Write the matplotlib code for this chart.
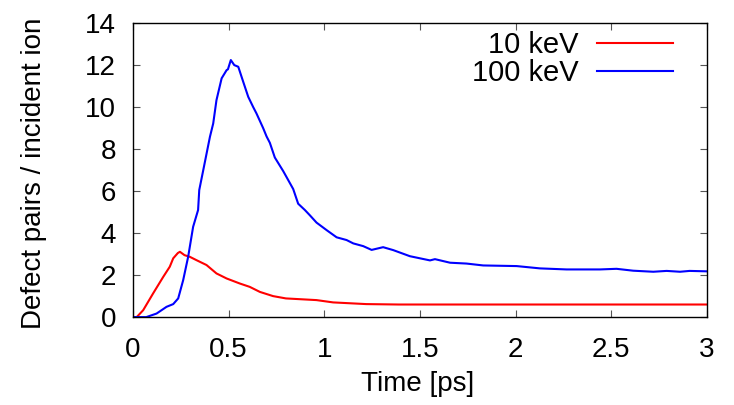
import matplotlib
matplotlib.use("Agg")
import matplotlib.pyplot as plt

# data
red_t = [0, 0.02, 0.054, 0.106, 0.159, 0.193, 0.211, 0.235, 0.246, 0.27, 0.298, 0.333,
         0.385, 0.437, 0.49, 0.559, 0.611, 0.664, 0.733, 0.8, 0.96, 1.047, 1.22, 1.39, 3.0]
red_v = [0, 0, 0.33, 1.13, 1.92, 2.4, 2.8, 3.05, 3.11, 2.95, 2.87, 2.71,
         2.48, 2.08, 1.84, 1.6, 1.44, 1.2, 1.0, 0.89, 0.81, 0.7, 0.62, 0.6, 0.6]

blue_t = [0, 0.07, 0.124, 0.176, 0.211, 0.237, 0.263, 0.289, 0.315, 0.341, 0.347, 0.368,
          0.403, 0.42, 0.437, 0.464, 0.49, 0.497, 0.512, 0.53, 0.551, 0.577, 0.603, 0.629,
          0.646, 0.681, 0.699, 0.716, 0.742, 0.786, 0.838, 0.864, 0.899, 0.925, 0.96, 1.013,
          1.065, 1.117, 1.152, 1.204, 1.248, 1.308, 1.361, 1.448, 1.553, 1.579, 1.658, 1.744,
          1.831, 2.006, 2.128, 2.267, 2.441, 2.528, 2.615, 2.72, 2.79, 2.86, 2.91, 3.0]
blue_v = [0, 0, 0.17, 0.49, 0.62, 0.89, 1.76, 2.87, 4.3, 5.1, 6.05, 7.0,
          8.59, 9.22, 10.33, 11.37, 11.76, 11.8, 12.24, 12.0, 11.92, 11.2, 10.49, 10.0,
          9.7, 9.0, 8.6, 8.3, 7.6, 6.95, 6.1, 5.4, 5.1, 4.85, 4.5, 4.14,
          3.8, 3.67, 3.51, 3.38, 3.2, 3.33, 3.19, 2.9, 2.7, 2.76, 2.59, 2.55,
          2.46, 2.43, 2.32, 2.27, 2.27, 2.3, 2.21, 2.16, 2.2, 2.16, 2.2, 2.18]

labels = ["10 keV", "100 keV"]
xticks = [0, 0.5, 1, 1.5, 2, 2.5, 3]
xticklabels = ["0", "0.5", "1", "1.5", "2", "2.5", "3"]
yticks = [0, 2, 4, 6, 8, 10, 12, 14]


def main() -> None:
    plt.rcParams["font.family"] = ["Liberation Sans", "DejaVu Sans"]
    fs = 20
    fig = plt.figure(figsize=(7.34, 4.05), dpi=100)
    ax = fig.add_axes([0.181, 0.217, 0.782, 0.726])

    ax.plot(red_t, red_v, color="#ff0000", lw=1.5, label=labels[0])
    ax.plot(blue_t, blue_v, color="#0000ff", lw=1.5, label=labels[1])

    ax.set_xlim(0, 3)
    ax.set_ylim(0, 14)
    ax.set_xticks(xticks)
    ax.set_xticklabels(xticklabels)
    ax.set_yticks(yticks)
    ax.tick_params(direction="in", length=5, width=0.8, color="#555555",
                   top=True, right=True, labelsize=fs)
    ax.tick_params(axis="x", pad=14)
    ax.tick_params(axis="y", pad=12)
    for s in ax.spines.values():
        s.set_linewidth(1.0)

    ax.set_xlabel("Time [ps]", fontsize=fs)
    ax.xaxis.set_label_coords(0.496, -0.184)
    ax.set_ylabel("Defect pairs / incident ion", fontsize=fs)
    ax.yaxis.set_label_coords(-0.150, 0.49)

    ax.legend(loc="upper right", frameon=False, markerfirst=False, fontsize=21,
              handlelength=2.6, handletextpad=0.65, labelspacing=-0.02,
              borderpad=0, borderaxespad=0, bbox_to_anchor=(0.941, 0.972))

    fig.savefig("out.png", dpi=100)
    plt.close(fig)


if __name__ == "__main__":
    main()
